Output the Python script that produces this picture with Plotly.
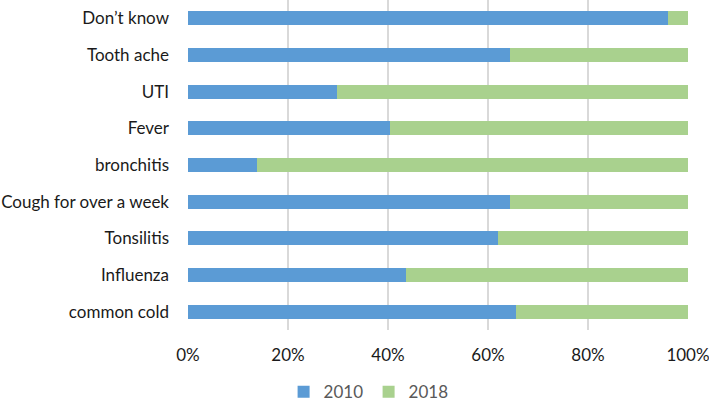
import plotly.graph_objects as go

categories = ["common cold", "Influenza", "Tonsilitis", "Cough for over a week",
              "bronchitis", "Fever", "UTI", "Tooth ache", "Don\u2019t know"]
values_2010 = [65.5, 43.5, 61.9, 64.4, 13.7, 40.3, 29.7, 64.4, 96.0]
values_2018 = [100 - v for v in values_2010]
tick_vals = [0, 20, 40, 60, 80, 100]
tick_text = ["0%", "20%", "40%", "60%", "80%", "100%"]

fig = go.Figure()
fig.add_trace(go.Bar(y=categories, x=values_2010, name="2010", orientation="h",
                     marker=dict(color="#5B9BD5", line=dict(width=0))))
fig.add_trace(go.Bar(y=categories, x=values_2018, name="2018", orientation="h",
                     marker=dict(color="#A9D18E", line=dict(width=0))))

fig.update_layout(
    barmode="stack",
    bargap=0.62,
    width=709, height=401,
    margin=dict(l=188, r=21, t=0, b=71, autoexpand=False),
    plot_bgcolor="white", paper_bgcolor="white",
    font=dict(family="Lato, Open Sans, sans-serif", size=17, color="#1a1a1a"),
    xaxis=dict(range=[0, 100], tickvals=tick_vals, ticktext=tick_text,
               showgrid=True, gridcolor="#D9D9D9", gridwidth=1.5,
               zeroline=False, showline=False, ticks="", ticklen=0,
               ticklabelstandoff=13, ticklabeloverflow="allow", automargin=False,
               tickfont=dict(size=17, color="#1a1a1a")),
    yaxis=dict(categoryorder="array", categoryarray=categories,
               range=[-0.5, 8.5], showgrid=False, zeroline=False,
               ticks="", ticklen=0, ticklabelstandoff=18, automargin=False,
               tickfont=dict(size=17, color="#1a1a1a")),
    legend=dict(orientation="h", xref="container", yref="container",
                x=0.40, xanchor="left", y=0.022, yanchor="middle",
                font=dict(size=17, color="#595959"), traceorder="normal",
                entrywidth=40, itemwidth=30),
    showlegend=True,
)
fig.update_xaxes(layer="below traces")

fig.write_html("out.html", config={"displayModeBar": False},
               post_script="document.body.style.margin='0';")
